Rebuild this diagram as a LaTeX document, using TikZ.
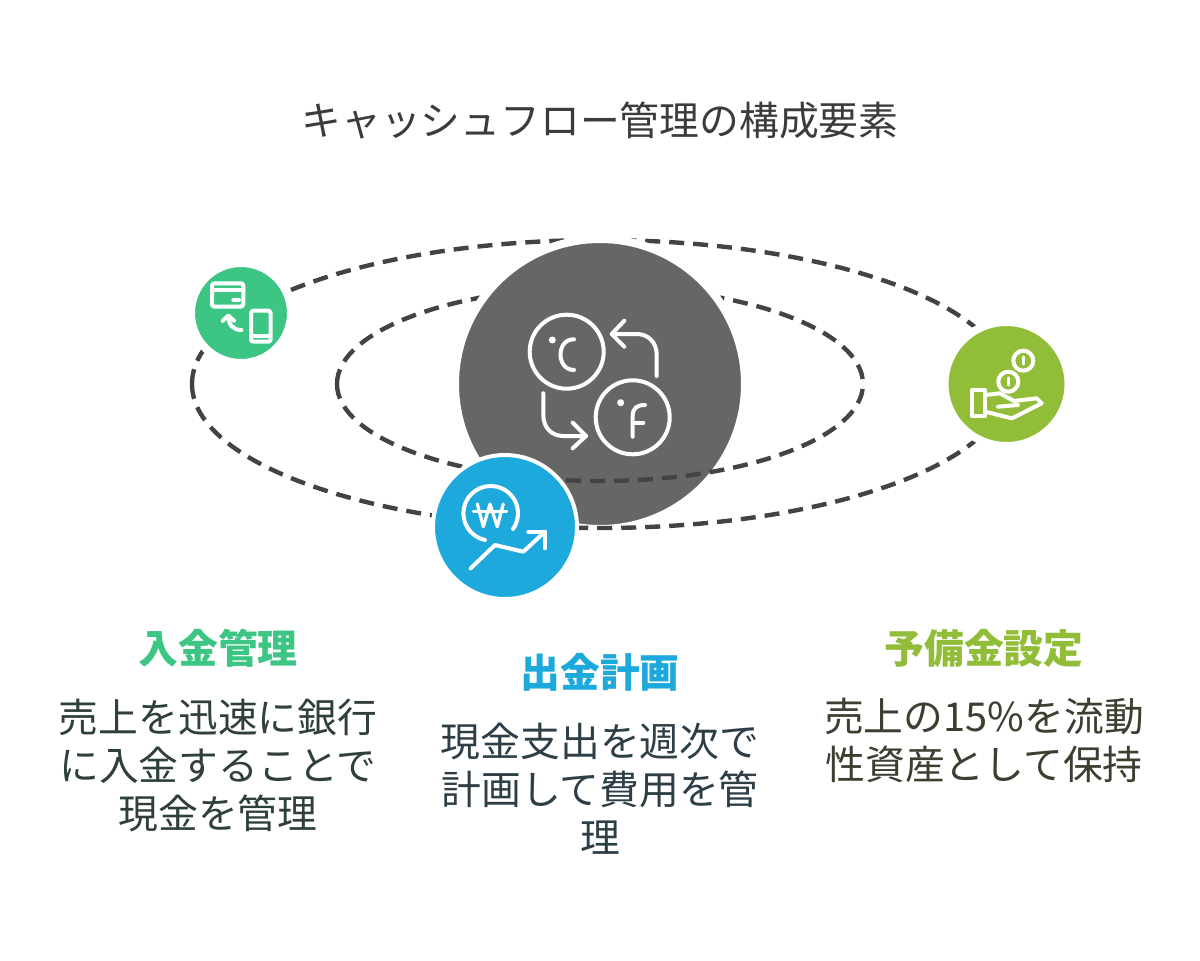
\documentclass[tikz,border=0pt]{standalone}
\usepackage{fontspec}
\newfontfamily\cjk{Noto Sans CJK JP}
\definecolor{inflow}{HTML}{3CC583}
\definecolor{outflow}{HTML}{1EA9DC}
\definecolor{reserve}{HTML}{92BD39}
\definecolor{hub}{HTML}{666666}
\definecolor{orbit}{HTML}{434343}
\definecolor{inktitle}{HTML}{3B3B3B}
\definecolor{inkone}{HTML}{2F4039}
\definecolor{inktwo}{HTML}{2D3E46}
\definecolor{inkthree}{HTML}{3A4030}
\tikzset{
  orbitline/.style={draw=orbit, line width=4.4pt, dash pattern=on 15pt off 9pt},
  disc/.style={circle, inner sep=0pt, outer sep=0pt, draw=white, minimum size=#1},
  glyph/.style={draw=white, line width=4pt, line cap=round, line join=round},
  thinglyph/.style={glyph, line width=3.2pt},
  headline/.style={font=\cjk\bfseries\fontsize{39.8}{48}\selectfont},
  bodytext/.style={font=\cjk\fontsize{39.8}{48}\selectfont, align=center}
}
\begin{document}
\begin{tikzpicture}[x=1pt,y=-1pt]
  \useasboundingbox (0,0) rectangle (1200,961);
  \fill[white] (0,0) rectangle (1200,961);

  % back of the orbits
  \draw[orbitline] (192,384) arc[start angle=180, end angle=360, x radius=408, y radius=144];
  \draw[orbitline] (337,384) arc[start angle=180, end angle=360, x radius=263, y radius=97];

  \node[disc=290pt, fill=hub, line width=8pt] (hubdisc) at (600,384) {};

  % front of the orbits
  \draw[orbitline] (192,384) arc[start angle=180, end angle=0, x radius=408, y radius=144];
  \draw[orbitline] (337,384) arc[start angle=180, end angle=0, x radius=263, y radius=97];

  \node[disc=100pt, fill=inflow, line width=8pt] (indisc) at (241,313) {};
  \node[disc=124pt, fill=reserve, line width=8pt] (resdisc) at (1006.5,384) {};
  \node[disc=144pt, fill=outflow, line width=4pt] (outdisc) at (505,527) {};

  % hub icon
  \draw[glyph] (566.7,351.7) circle (37);
  \draw[glyph] (632.7,417.3) circle (37);
  \fill[white] (552.3,340) circle (3.5) (620.7,402.7) circle (3.5);
  \draw[glyph] (574,339.3) .. controls (556,339) and (556,370) .. (574,370);
  \draw[glyph] (632.7,436.7) -- (632.7,416) .. controls (632.7,408) and (637,405) .. (645,405);
  \draw[glyph] (632.7,422.7) -- (643.3,422.7);
  \draw[glyph] (656.7,376) -- (656.7,355) .. controls (656.7,342) and (648,334) .. (636.7,334) -- (611.7,334);
  \draw[glyph] (624.3,320.7) -- (611.7,334) -- (624.3,346.7);
  \draw[glyph] (543.3,393.3) -- (543.3,415) .. controls (543.3,428) and (552,436) .. (563.3,436) -- (586,436);
  \draw[glyph] (572.7,422.7) -- (586,436) -- (572.7,448.3);

  % outflow icon
  \draw[glyph] (485,540) arc[start angle=102, end angle=395, radius=27.3];
  \draw[thinglyph] (477.3,504) -- (483.3,526.7) -- (490,504) -- (497.3,526.7) -- (503.3,504);
  \draw[thinglyph] (473.3,511.7) -- (506.7,511.7);
  \draw[glyph] (470.7,568.3) -- (495,545) -- (523.3,551.7) -- (545,531.7);
  \draw[glyph] (528.3,531.7) -- (545,531.7) -- (545,548.3);

  % inflow icon
  \draw[glyph, rounded corners=2.5pt] (212,283.3) rectangle (243.3,306.7);
  \draw[glyph] (212,289.5) -- (243.3,289.5);
  \draw[glyph] (233.3,300) -- (239,300);
  \draw[glyph, rounded corners=2.5pt] (251,310.7) rectangle (270.7,341.7);
  \draw[glyph] (253,336) -- (268.3,336);
  \draw[glyph] (241.5,330) .. controls (233,330) and (228.5,325) .. (228.3,316);
  \draw[glyph] (222.8,321) -- (228.3,315.5) -- (234,320.7);

  % reserve icon
  \draw[glyph] (1023.3,360.7) circle (10);
  \draw[glyph] (1008.3,381.7) circle (10);
  \draw[thinglyph] (1023.3,357) -- (1023.3,364);
  \draw[thinglyph] (1008.3,378) -- (1008.3,385);
  \draw[glyph] (971.7,390) rectangle (985,416);
  \draw[glyph] (985,395) -- (1000,393.3) -- (1014,401) -- (1036.7,398.3) -- (1041.7,403.3) -- (1012,418.3) -- (985,411.7);
  \draw[glyph] (998,406.7) -- (1018,405);

  \node[font=\cjk\fontsize{39.8}{48}\selectfont, text=inktitle] (title) at (600,120) {キャッシュフロー管理の構成要素};

  \node[headline, text=inflow] (inhead) at (218,648) {入金管理};
  \node[headline, text=outflow] (outhead) at (600,672) {出金計画};
  \node[headline, text=reserve] (reshead) at (984,648) {予備金設定};

  \node[bodytext, text=inkone, anchor=north] (inbody) at (218,695) {売上を迅速に銀行\\に入金することで\\現金を管理};
  \node[bodytext, text=inktwo, anchor=north] (outbody) at (600,719) {現金支出を週次で\\計画して費用を管\\理};
  \node[bodytext, text=inkthree, anchor=north] (resbody) at (984,695) {売上の15\%を流動\\性資産として保持};
\end{tikzpicture}
\end{document}
